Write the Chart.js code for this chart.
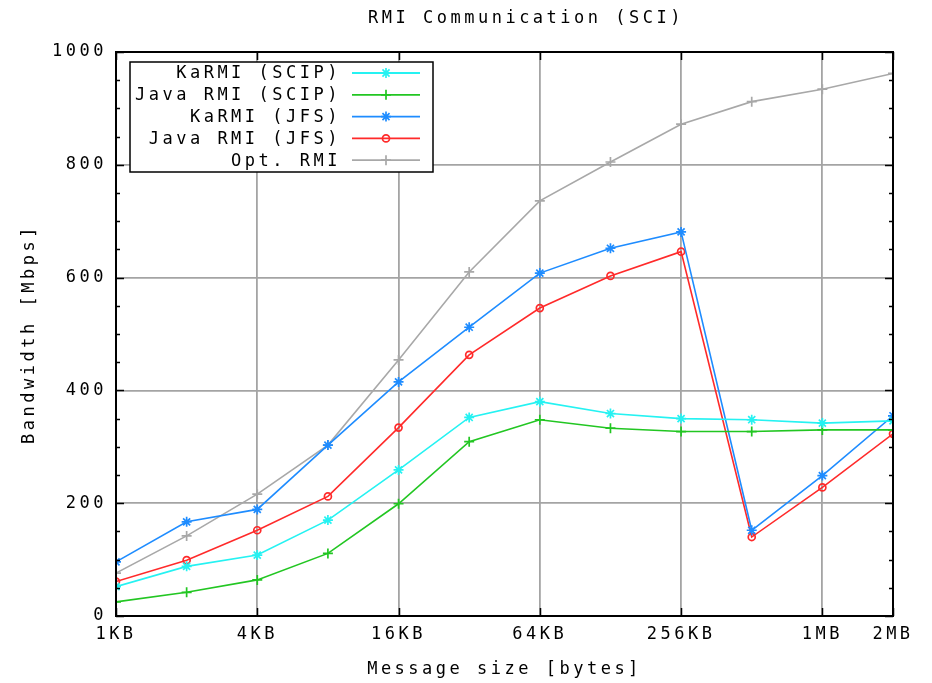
<!DOCTYPE html>
<html>
<head>
<meta charset="UTF-8" />
<title>RMI Communication (SCI)</title>
<script src="https://cdn.jsdelivr.net/npm/chart.js"></script>
<style>
  body { margin: 0; background: #fff; }
  canvas { display: block; }
</style>
</head>
<body>
<canvas id="chart" width="932" height="683"></canvas>
<script>
// message sizes in KB, one point per doubling
const sizesKB = [1, 2, 4, 8, 16, 32, 64, 128, 256, 512, 1024, 2048];
const tickPositions = [0, 2, 4, 6, 8, 10, 11];
const tickLabels = ['1KB', '4KB', '16KB', '64KB', '256KB', '1MB', '2MB'];

const karmiScip   = [52, 88, 108, 170, 259, 352, 380, 359, 350, 348, 342, 346];
const javaRmiScip = [25, 42, 64, 111, 199, 309, 348, 333, 327, 327, 330, 330];
const karmiJfs    = [96, 167, 189, 303, 415, 512, 608, 652, 681, 152, 249, 355];
const javaRmiJfs  = [61, 99, 152, 212, 334, 463, 546, 603, 646, 140, 228, 323];
const optRmi      = [76, 142, 216, 303, 454, 610, 736, 805, 872, 912, 934, 962];

const FONT = "'DejaVu Sans Mono', monospace";
const FSIZE = 17;
const SPACING = '3.5px';
const TITLE = 'RMI Communication (SCI)';

function pts(vals) {
  return vals.map((v, i) => ({ x: Math.log2(sizesKB[i]), y: v }));
}

function series(label, vals, color, style, radius) {
  return {
    label: label,
    data: pts(vals),
    borderColor: color,
    backgroundColor: color,
    pointBorderColor: color,
    pointBackgroundColor: style === 'circle' ? 'rgba(255,255,255,0)' : color,
    pointStyle: style,
    pointRadius: radius,
    pointBorderWidth: 1.7,
    borderWidth: 1.6,
    tension: 0
  };
}

const datasets = [
  series('KaRMI (SCIP)', karmiScip, '#25f2f2', 'star', 5),
  series('Java RMI (SCIP)', javaRmiScip, '#22c622', 'cross', 5),
  series('KaRMI (JFS)', karmiJfs, '#1e8cff', 'star', 5),
  series('Java RMI (JFS)', javaRmiJfs, '#ff2a2a', 'circle', 3.5),
  series('Opt. RMI', optRmi, '#a8a8a8', 'cross', 5)
];

// gnuplot-ish frame, ticks, title and legend
const framePlugin = {
  id: 'frame',
  beforeDraw(chart) {
    chart.ctx.letterSpacing = SPACING;
  },
  afterDraw(chart) {
    const { ctx, chartArea: a, scales } = chart;
    ctx.save();
    ctx.strokeStyle = '#000';
    ctx.lineWidth = 1.5;
    ctx.beginPath();
    for (let v = 0; v <= 1000; v += 50) {
      const y = Math.round(scales.y.getPixelForValue(v)) + 0.5;
      const len = v % 200 === 0 ? 8 : 4;
      ctx.moveTo(a.left, y); ctx.lineTo(a.left + len, y);
      ctx.moveTo(a.right, y); ctx.lineTo(a.right - len, y);
    }
    tickPositions.forEach(t => {
      const x = Math.round(scales.x.getPixelForValue(t)) + 0.5;
      ctx.moveTo(x, a.bottom); ctx.lineTo(x, a.bottom - 8);
      ctx.moveTo(x, a.top); ctx.lineTo(x, a.top + 8);
    });
    ctx.stroke();
    ctx.lineWidth = 2;
    ctx.strokeRect(a.left, a.top, a.right - a.left, a.bottom - a.top);

    ctx.font = FSIZE + 'px ' + FONT;
    ctx.letterSpacing = SPACING;
    ctx.textBaseline = 'middle';

    // title
    ctx.fillStyle = '#000';
    ctx.textAlign = 'center';
    ctx.fillText(TITLE, a.left + 410, 19);

    // legend
    const bx = a.left + 14, by = a.top + 10, bw = 303, bh = 110;
    ctx.fillStyle = '#fff';
    ctx.fillRect(bx, by, bw, bh);
    ctx.lineWidth = 1.5;
    ctx.strokeRect(bx, by, bw, bh);
    ctx.textAlign = 'right';
    chart.data.datasets.forEach((ds, i) => {
      const y = by + 11 + i * 21.8;
      ctx.fillStyle = '#000';
      ctx.fillText(ds.label, bx + 211, y + 1);
      ctx.strokeStyle = ds.borderColor;
      ctx.lineWidth = 1.8;
      ctx.beginPath();
      ctx.moveTo(bx + 222, y); ctx.lineTo(bx + 290, y);
      ctx.stroke();
      ctx.fillStyle = ds.pointBackgroundColor;
      ctx.lineWidth = ds.pointBorderWidth;
      Chart.helpers.drawPoint(ctx, {
        pointStyle: ds.pointStyle, radius: ds.pointRadius,
        rotation: 0, borderWidth: ds.pointBorderWidth
      }, bx + 256, y);
    });
    ctx.restore();
  }
};

new Chart(document.getElementById('chart').getContext('2d'), {
  type: 'line',
  data: { datasets: datasets },
  options: {
    responsive: false,
    animation: false,
    layout: { padding: { left: 0, right: 39, top: 52, bottom: 0 } },
    plugins: {
      legend: { display: false },
      tooltip: { enabled: false },
      title: { display: false }
    },
    scales: {
      x: {
        type: 'linear',
        min: 0,
        max: 11,
        afterBuildTicks(scale) {
          scale.ticks = tickPositions.map(v => ({ value: v }));
        },
        afterFit(scale) { scale.height = 67; },
        ticks: {
          color: '#000',
          font: { family: FONT, size: FSIZE },
          padding: 8,
          maxRotation: 0,
          autoSkip: false,
          callback: v => tickLabels[tickPositions.indexOf(v)]
        },
        grid: { color: '#a4a4a4', lineWidth: 1.8, drawTicks: false },
        border: { display: false },
        title: {
          display: true,
          text: 'Message size [bytes]',
          color: '#000',
          font: { family: FONT, size: FSIZE },
          padding: { top: 0, bottom: 3 }
        }
      },
      y: {
        min: 0,
        max: 1000,
        afterFit(scale) { scale.width = 116; },
        ticks: {
          stepSize: 200,
          color: '#000',
          font: { family: FONT, size: FSIZE },
          padding: 9,
          callback: v => String(v)
        },
        grid: { color: '#a4a4a4', lineWidth: 1.8, drawTicks: false },
        border: { display: false },
        title: {
          display: true,
          text: 'Bandwidth [Mbps]',
          color: '#000',
          font: { family: FONT, size: FSIZE },
          padding: { top: 19, bottom: 0 }
        }
      }
    }
  },
  plugins: [framePlugin]
});
</script>
</body>
</html>
